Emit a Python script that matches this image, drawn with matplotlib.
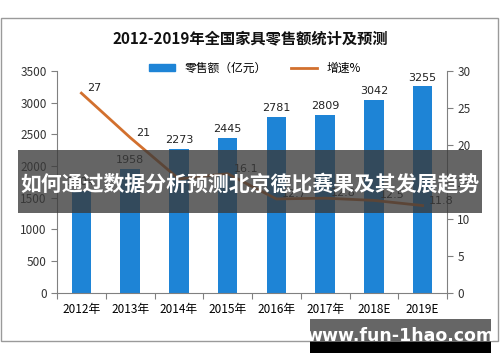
import matplotlib.pyplot as plt
from matplotlib.patches import Rectangle
from matplotlib.lines import Line2D

plt.rcParams['font.family'] = ['Noto Sans CJK SC', 'DejaVu Sans']

# data
years = ['2012年', '2013年', '2014年', '2015年', '2016年', '2017年', '2018E', '2019E']
sales = [1604, 1958, 2273, 2445, 2781, 2809, 3042, 3255]
growth = [27, 21, 15.4, 16.1, 12.7, 12.8, 12.5, 11.8]
growth_labels = ['27', '21', '', '16.1', '12.7', '12.8', '12.5', '11.8']

bar_color = '#1E84D6'
line_color = '#D2702E'
grey = '#808080'

fig = plt.figure(figsize=(5, 3.62), dpi=100)

# outer frame
fig.patches.append(Rectangle((0.002, 1 - 341 / 362), 0.994, 323 / 362, transform=fig.transFigure,
                             fill=False, edgecolor='#9a9a9a', linewidth=1))

ax = fig.add_axes([0.114, 0.191, 0.78, 0.613])
x = range(len(years))
ax.bar(x, sales, width=0.4, color=bar_color, zorder=2)
for i, v in enumerate(sales):
    ax.text(i, v + 60, str(v), ha='center', va='bottom', fontsize=8, family='DejaVu Sans', color='#222222')
ax.set_xlim(-0.5, len(years) - 0.5)
ax.set_ylim(0, 3500)
ax.set_yticks(range(0, 3501, 500))
ax.set_xticks([i - 0.5 for i in range(len(years) + 1)], minor=False)
ax.set_xticklabels([])
ax.set_xticks(list(x), minor=True)
ax.set_xticklabels(years, minor=True, fontsize=8.5)
ax.tick_params(axis='x', which='major', length=4, color=grey)
ax.tick_params(axis='x', which='minor', length=0, pad=7)
ax.tick_params(axis='y', length=4, color=grey, labelsize=8.5, labelcolor='#333333')
for s in ['top', 'right']:
    ax.spines[s].set_visible(False)
for s in ['left', 'bottom']:
    ax.spines[s].set_color(grey)

ax2 = ax.twinx()
ax2.plot(list(x), growth, color=line_color, linewidth=2, zorder=3)
for i, (v, lab) in enumerate(zip(growth, growth_labels)):
    if lab:
        ax2.text(i + 0.12, v, lab, ha='left', va='bottom', fontsize=8, family='DejaVu Sans', color='#222222')
ax2.set_ylim(0, 30)
ax2.set_yticks(range(0, 31, 5))
ax2.tick_params(axis='y', length=4, color=grey, labelsize=8.5, labelcolor='#333333')
for s in ['top', 'left', 'bottom']:
    ax2.spines[s].set_visible(False)
ax2.spines['right'].set_color(grey)

# title and legend
fig.text(0.5, 1 - 38 / 362, '2012-2019年全国家具零售额统计及预测', ha='center', va='center',
         fontsize=11, fontweight='bold', color='#111111')
handles = [Rectangle((0, 0), 1, 1, color=bar_color), Line2D([0], [0], color=line_color, linewidth=2)]
fig.legend(handles, ['零售额（亿元）', '增速%'], loc='center', bbox_to_anchor=(0.51, 1 - 68 / 362),
           ncol=2, frameon=False, fontsize=8.5, handlelength=2.2, handleheight=0.5, columnspacing=2)

# overlay banner
fig.patches.append(Rectangle((18 / 500, 1 - 213 / 362), 464 / 500, 63 / 362, transform=fig.transFigure,
                             facecolor='#3a3a3a', alpha=0.78, edgecolor='none', zorder=10))
fig.text(0.5, 1 - 185 / 362, '如何通过数据分析预测北京德比赛果及其发展趋势', ha='center', va='center',
         fontsize=15, fontweight='bold', color='white', zorder=11)

# site mark
fig.patches.append(Rectangle((310 / 500, 1 - 342 / 362), 181 / 500, 23 / 362, transform=fig.transFigure,
                             facecolor='#666666', edgecolor='none', zorder=10))
fig.patches.append(Rectangle((310 / 500, 1 - 353 / 362), 181 / 500, 11 / 362, transform=fig.transFigure,
                             facecolor='black', edgecolor='none', zorder=10))
fig.text(400 / 500, 1 - 336 / 362, 'www.fun-1hao.com', ha='center', va='center',
         fontsize=12.5, fontweight='bold', color='white', zorder=11, family='DejaVu Sans')

fig.savefig('out.png', dpi=100)
